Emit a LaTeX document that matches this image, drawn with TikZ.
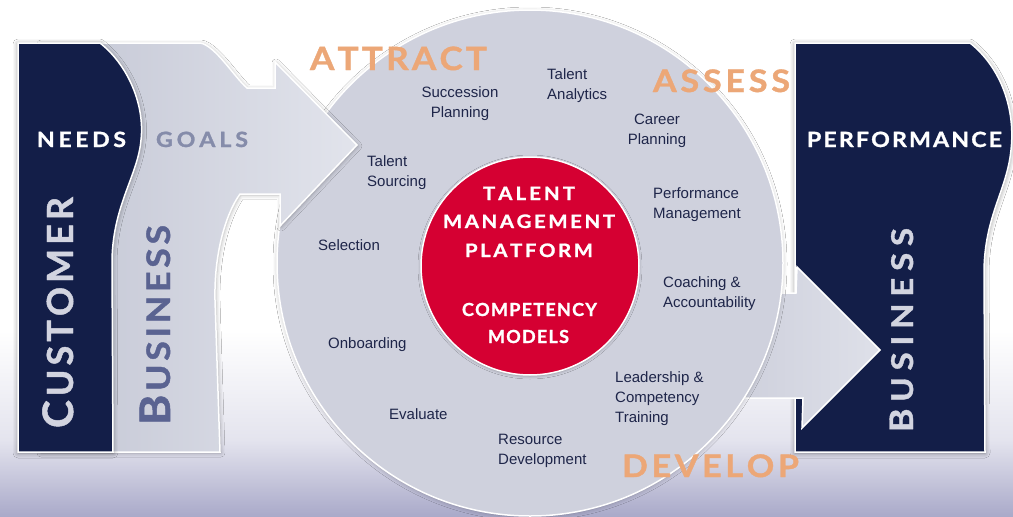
\documentclass[tikz,border=0pt]{standalone}
\usepackage{fontspec}
\setmainfont{Liberation Sans}
\newfontfamily\hd{Lato}[FakeStretch=1.1, BoldFeatures={FakeBold=1.2}]
\newfontfamily\hdn{Lato}[BoldFeatures={FakeBold=1.2}]
\usetikzlibrary{shadows.blur}

\definecolor{navy}{HTML}{131E48}
\definecolor{circfill}{HTML}{CFD1DD}
\definecolor{arrL}{HTML}{C3C6D4}
\definecolor{arrR}{HTML}{E2E4EC}
\definecolor{orng}{HTML}{ECA777}
\definecolor{goalc}{HTML}{858CAA}
\definecolor{busc}{HTML}{5A6391}
\definecolor{lightc}{HTML}{D2D4E0}
\definecolor{txt}{HTML}{1E2549}
\definecolor{corered}{HTML}{D50032}
\definecolor{bgA}{HTML}{E4E4EE}
\definecolor{bgB}{HTML}{A9A9C9}

% spread letters to an exact width
\newcommand\spr[2]{\makebox[#1][s]{\sprx#2\relax}}
\def\sprx#1{#1\futurelet\sprnext\spry}
\def\spry{\ifx\sprnext\relax\expandafter\sprgob\else\hfill\expandafter\sprx\fi}
\def\sprgob#1{}
\newcommand\bigC{{\fontsize{42}{42}\selectfont C}}
\newcommand\bigB{{\fontsize{42}{42}\selectfont B}}
\newcommand\bigBr{{\fontsize{32.5}{32.5}\selectfont B}}

\tikzset{
  navybox/.style={fill=navy, draw=white, line width=1.5pt,
    blur shadow={shadow xshift=0pt, shadow yshift=-1pt, shadow blur radius=5pt, shadow opacity=45}},
  lbl/.style={font=\fontsize{15}{20}\selectfont, text=txt, inner sep=0pt, align=left, anchor=west},
  lblc/.style={lbl, align=center, anchor=center},
  hdr/.style={font=\hd\bfseries\fontsize{21}{21}\selectfont, inner sep=0pt, anchor=base},
  phase/.style={font=\hd\bfseries\fontsize{31}{31}\selectfont, inner sep=0pt, anchor=base, text=orng},
  core/.style={font=\hd\bfseries\fontsize{18.5}{18.5}\selectfont, inner sep=0pt, anchor=base, text=white},
  corelow/.style={core, font=\hdn\bfseries\fontsize{18}{18}\selectfont},
}

\begin{document}
\begin{tikzpicture}[x=1pt,y=-1pt]
\useasboundingbox (0,0) rectangle (1013,517);
% background
\fill[white] (0,0) rectangle (1013,517);
\shade[top color=white, bottom color=bgA] (0,330) rectangle (1013,440);
\shade[top color=bgA, bottom color=bgB] (0,440) rectangle (1013,517);

% right navy box
\path[navybox] (795,43) -- (970,43) .. controls (998,65) and (1016,105) .. (1011,150)
  .. controls (1007,190) and (985,215) .. (984,270) -- (985,452) -- (795,452) -- cycle;

% right arrow
\path[left color=circfill, right color=arrR!80!circfill, draw=white, line width=1.5pt]
  (745,293) -- (796,293) -- (797,267) -- (880,350) -- (802,428) -- (803,398) -- (745,398) -- cycle;

% big circle
\node[circle, minimum size=506pt, inner sep=0pt, outer sep=0pt, fill=circfill, draw=white, line width=1.5pt,
  blur shadow={shadow xshift=0pt, shadow yshift=-1pt, shadow blur radius=4pt, shadow opacity=25}] (ring) at (530,263) {};

% left arrow
\path[left color=arrL, right color=arrR, draw=white, line width=1.5pt,
  blur shadow={shadow xshift=1pt, shadow yshift=-1pt, shadow blur radius=4pt, shadow opacity=30}]
  (40,43) -- (200,43) .. controls (215,45) and (235,78) .. (247,88) -- (275,88) -- (275,62)
  -- (357,145) -- (280,226) -- (280,194) -- (240,194) .. controls (225,215) and (214,255) .. (215,300)
  -- (220,452) -- (40,452) -- cycle;

% left navy box
\path[navybox] (18,43) -- (100,43) .. controls (128,65) and (145,105) .. (141,140)
  .. controls (138,175) and (113,205) .. (112,260) -- (113,452) -- (18,452) -- cycle;

% red core
\node[circle, minimum size=218pt, inner sep=0pt, outer sep=0pt, fill=corered, draw=white, line width=1.5pt,
  blur shadow={shadow xshift=0pt, shadow yshift=-1pt, shadow blur radius=3pt, shadow opacity=30}] (core) at (530,266) {};

% core text
\node[core] (t1) at (529,200) {\spr{92pt}{TALENT}};
\node[core] (t2) at (529,228) {\spr{172pt}{MANAGEMENT}};
\node[core] (t3) at (529,257) {\spr{128pt}{PLATFORM}};
\node[corelow] (t4) at (529.5,316) {\spr{135pt}{COMPETENCY}};
\node[corelow] (t5) at (528.5,343) {\spr{81pt}{MODELS}};

% headers
\node[hdr, text=white] (needs) at (81.5,147) {\spr{89pt}{NEEDS}};
\node[hdr, text=goalc] (goals) at (202,147) {\spr{92pt}{GOALS}};
\node[hdr, text=white] (perf) at (904.5,147) {\spr{195pt}{PERFORMANCE}};

% vertical words
\node[font=\hdn\bfseries\fontsize{36}{36}\selectfont, text=lightc, inner sep=0pt, anchor=base, rotate=90]
  (cust) at (73,312.5) {\spr{231pt}{\bigC USTOMER}};
\node[font=\hd\bfseries\fontsize{32.5}{32.5}\selectfont, text=busc, inner sep=0pt, anchor=base, rotate=90]
  (busL) at (170,325) {\spr{200pt}{\bigB USINESS}};
\node[font=\hd\bfseries\fontsize{30}{30}\selectfont, text=lightc, inner sep=0pt, anchor=base, rotate=90]
  (busR) at (913,330) {\spr{204pt}{\bigBr USINESS}};

% phases
\node[phase, font=\hd\bfseries\fontsize{32}{32}\selectfont] (attract) at (398.5,70) {\spr{177pt}{ATTRACT}};
\node[phase] (assess) at (721.5,92) {\spr{137pt}{ASSESS}};
\node[phase] (develop) at (710.5,477) {\spr{177pt}{DEVELOP}};

% activities
\node[lbl] (ana) at (547,86) {Talent\\Analytics};
\node[lblc] (succ) at (460,104) {Succession\\Planning};
\node[lblc] (career) at (657,131) {Career\\Planning};
\node[lbl] (sourc) at (367,173) {Talent\\Sourcing};
\node[lbl] (perfm) at (653,205) {Performance\\Management};
\node[lbl] (sel) at (318,245) {Selection};
\node[lbl] (coach) at (663,294) {Coaching \&\\Accountability};
\node[lbl] (onb) at (328,345) {Onboarding};
\node[lbl] (lead) at (615,399) {Leadership \&\\Competency\\Training};
\node[lbl] (eval) at (389,414) {Evaluate};
\node[lbl] (res) at (498,451) {Resource\\Development};
\end{tikzpicture}
\end{document}
